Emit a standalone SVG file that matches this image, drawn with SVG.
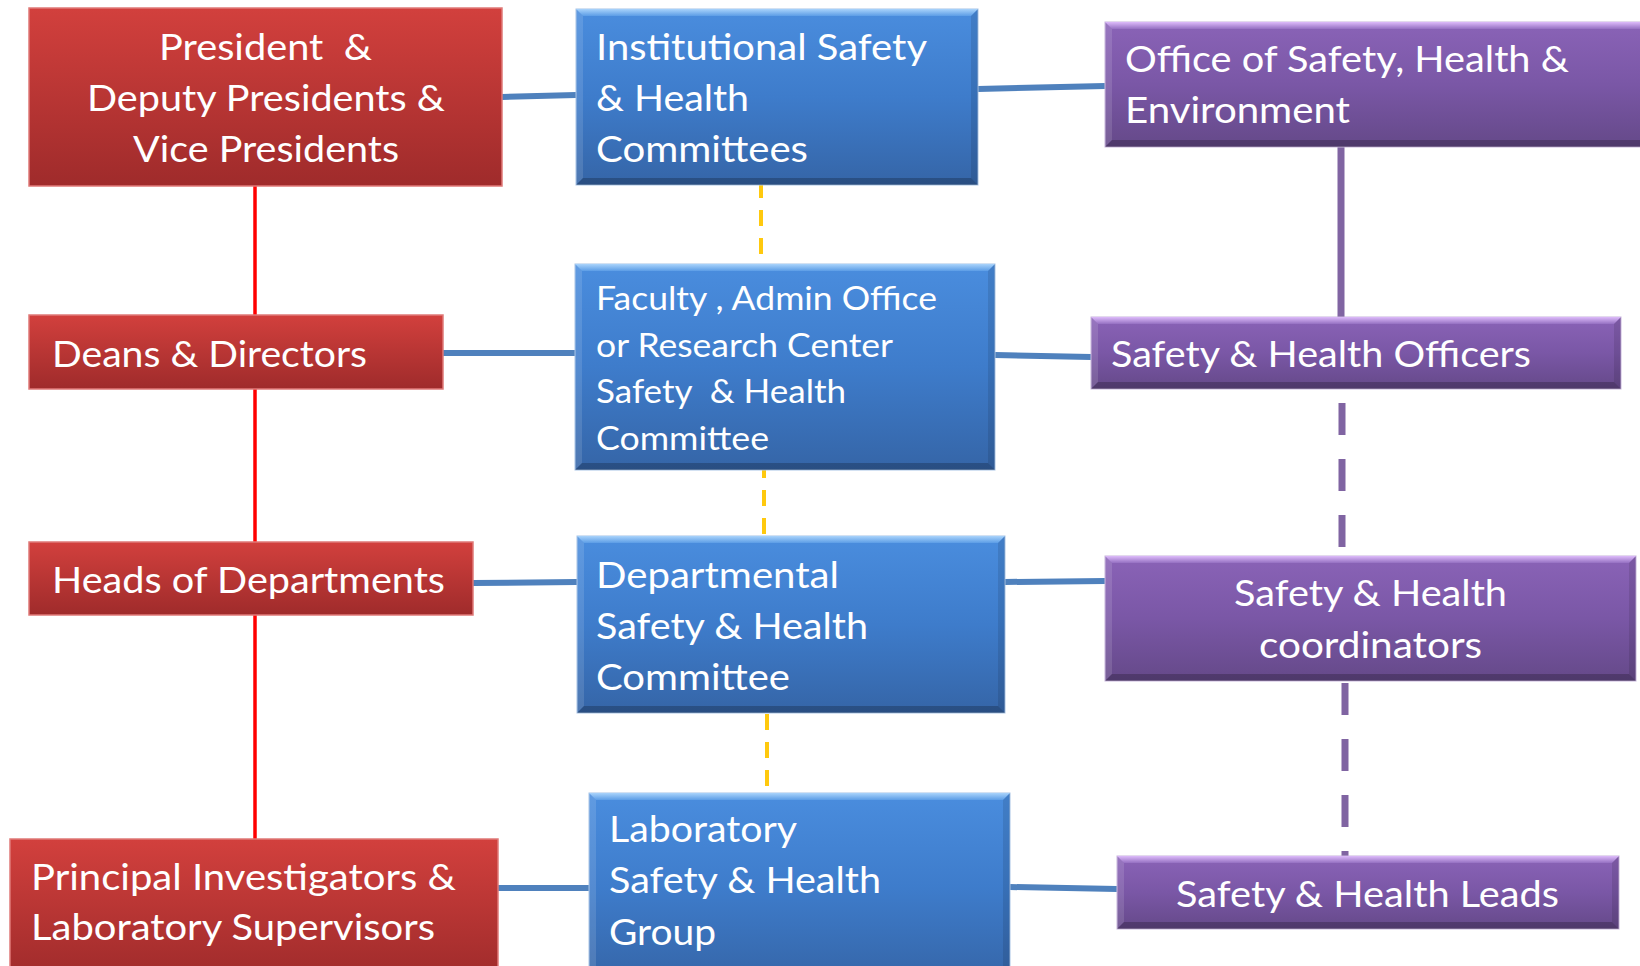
<svg xmlns="http://www.w3.org/2000/svg" width="1640" height="966" viewBox="0 0 1640 966">
<defs>
<linearGradient id="gRed" x1="0" y1="0" x2="0" y2="1">
<stop offset="0" stop-color="#D2403D"/><stop offset="1" stop-color="#9F2B2B"/>
</linearGradient>
<linearGradient id="gBlue" x1="0" y1="0" x2="0" y2="1">
<stop offset="0" stop-color="#4A8DDE"/><stop offset="0.5" stop-color="#3E7CCB"/><stop offset="1" stop-color="#3565A7"/>
</linearGradient>
<linearGradient id="gPurple" x1="0" y1="0" x2="0" y2="1">
<stop offset="0" stop-color="#8A63B7"/><stop offset="0.5" stop-color="#7A57A6"/><stop offset="1" stop-color="#654989"/>
</linearGradient>
<linearGradient id="gHiB" x1="0" y1="0" x2="0" y2="1">
<stop offset="0" stop-color="#A9D3FB"/><stop offset="1" stop-color="#5C9DE6"/>
</linearGradient>
<linearGradient id="gHiP" x1="0" y1="0" x2="0" y2="1">
<stop offset="0" stop-color="#DDBBFA"/><stop offset="1" stop-color="#9570C2"/>
</linearGradient>
</defs>
<style>
.txt{font-family:Lato,"Open Sans","Liberation Sans",sans-serif;fill:#FFFFFF;font-size:37px;white-space:pre}
.sm{font-size:33px}
.red{fill:url(#gRed);stroke:#E07A78;stroke-width:1.5}
.blue{fill:url(#gBlue);stroke:#A8C4E6;stroke-width:1}
.purple{fill:url(#gPurple);stroke:#C8B5DC;stroke-width:1}
.hiB{fill:url(#gHiB)}
.hiP{fill:url(#gHiP)}
.lft{fill:#FFFFFF;fill-opacity:0.12}
.rgt{fill:#000000;fill-opacity:0.1}
.bot{fill:#000000;fill-opacity:0.22}
.cBlue{stroke:#4F81BD;stroke-width:6;fill:none}
.cRed{stroke:#FF0000;stroke-width:3.5;fill:none}
.cYel{stroke:#FFC90E;stroke-width:4;fill:none;stroke-dasharray:16 12}
.cPur{stroke:#8064A2;stroke-width:7;fill:none}
.cPurD{stroke:#8064A2;stroke-width:7;fill:none;stroke-dasharray:32 24}
</style>
<rect width="1640" height="966" fill="#FFFFFF"/>
<g id="connectors">
<line class="cRed" x1="255" y1="186" x2="255" y2="840"/>
<line class="cBlue" x1="502" y1="97" x2="576" y2="95"/>
<line class="cBlue" x1="978" y1="89" x2="1105" y2="86"/>
<line class="cBlue" x1="443" y1="353" x2="575" y2="353"/>
<line class="cBlue" x1="995" y1="355" x2="1091" y2="357"/>
<line class="cBlue" x1="473" y1="583" x2="577" y2="582"/>
<line class="cBlue" x1="1005" y1="582" x2="1105" y2="581"/>
<line class="cBlue" x1="498" y1="888" x2="589" y2="888"/>
<line class="cBlue" x1="1010" y1="887" x2="1117" y2="889"/>
<line class="cYel" x1="761" y1="185" x2="761" y2="264" stroke-dashoffset="3"/>
<line class="cYel" x1="764" y1="470" x2="764" y2="536" stroke-dashoffset="8"/>
<line class="cYel" x1="767" y1="714" x2="767" y2="792"/>
<line class="cPur" x1="1341" y1="147" x2="1341" y2="317"/>
<line class="cPurD" x1="1342" y1="403" x2="1342" y2="556"/>
<line class="cPurD" x1="1345" y1="683" x2="1345" y2="856"/>
</g>
<g id="n-president">
<rect class="red" x="29" y="8" width="473" height="178"/>
<text class="txt" x="159" y="60" textLength="213" lengthAdjust="spacingAndGlyphs">President  &amp;</text>
<text class="txt" x="87" y="111" textLength="358" lengthAdjust="spacingAndGlyphs">Deputy Presidents &amp;</text>
<text class="txt" x="133" y="162" textLength="266" lengthAdjust="spacingAndGlyphs">Vice Presidents</text>
</g>
<g id="n-deans">
<rect class="red" x="29" y="315" width="414" height="74"/>
<text class="txt" x="52" y="367" textLength="315" lengthAdjust="spacingAndGlyphs">Deans &amp; Directors</text>
</g>
<g id="n-heads">
<rect class="red" x="29" y="542" width="444" height="73"/>
<text class="txt" x="52" y="593" textLength="393" lengthAdjust="spacingAndGlyphs">Heads of Departments</text>
</g>
<g id="n-pi">
<rect class="red" x="10" y="839" width="488" height="140"/>
<text class="txt" x="31" y="890" textLength="425" lengthAdjust="spacingAndGlyphs">Principal Investigators &amp;</text>
<text class="txt" x="31" y="940" textLength="404" lengthAdjust="spacingAndGlyphs">Laboratory Supervisors</text>
</g>
<g id="n-institutional">
<rect class="blue" x="576" y="9" width="402" height="176"/>
<polygon class="hiB" points="576,9 978,9 971,16 583,16"/>
<polygon class="lft" points="576,9 583,16 583,178 576,185"/>
<polygon class="rgt" points="978,9 971,16 971,178 978,185"/>
<polygon class="bot" points="576,185 583,178 971,178 978,185"/>
<text class="txt" x="596" y="60" textLength="331" lengthAdjust="spacingAndGlyphs">Institutional Safety</text>
<text class="txt" x="596" y="111" textLength="153" lengthAdjust="spacingAndGlyphs">&amp; Health</text>
<text class="txt" x="596" y="162" textLength="212" lengthAdjust="spacingAndGlyphs">Committees</text>
</g>
<g id="n-faculty">
<rect class="blue" x="575" y="264" width="420" height="206"/>
<polygon class="hiB" points="575,264 995,264 988,271 582,271"/>
<polygon class="lft" points="575,264 582,271 582,463 575,470"/>
<polygon class="rgt" points="995,264 988,271 988,463 995,470"/>
<polygon class="bot" points="575,470 582,463 988,463 995,470"/>
<text class="txt sm" x="596" y="310" textLength="341" lengthAdjust="spacingAndGlyphs">Faculty , Admin Office</text>
<text class="txt sm" x="596" y="357" textLength="297" lengthAdjust="spacingAndGlyphs">or Research Center</text>
<text class="txt sm" x="596" y="403" textLength="250" lengthAdjust="spacingAndGlyphs">Safety  &amp; Health</text>
<text class="txt sm" x="596" y="450" textLength="173" lengthAdjust="spacingAndGlyphs">Committee</text>
</g>
<g id="n-departmental">
<rect class="blue" x="577" y="536" width="428" height="177"/>
<polygon class="hiB" points="577,536 1005,536 998,543 584,543"/>
<polygon class="lft" points="577,536 584,543 584,706 577,713"/>
<polygon class="rgt" points="1005,536 998,543 998,706 1005,713"/>
<polygon class="bot" points="577,713 584,706 998,706 1005,713"/>
<text class="txt" x="596" y="588" textLength="243" lengthAdjust="spacingAndGlyphs">Departmental</text>
<text class="txt" x="596" y="639" textLength="272" lengthAdjust="spacingAndGlyphs">Safety &amp; Health</text>
<text class="txt" x="596" y="690" textLength="194" lengthAdjust="spacingAndGlyphs">Committee</text>
</g>
<g id="n-laboratory">
<rect class="blue" x="589" y="793" width="421" height="190"/>
<polygon class="hiB" points="589,793 1010,793 1003,800 596,800"/>
<polygon class="lft" points="589,793 596,800 596,983 589,983"/>
<polygon class="rgt" points="1010,793 1003,800 1003,983 1010,983"/>
<text class="txt" x="609" y="842" textLength="188" lengthAdjust="spacingAndGlyphs">Laboratory</text>
<text class="txt" x="609" y="893" textLength="272" lengthAdjust="spacingAndGlyphs">Safety &amp; Health</text>
<text class="txt" x="609" y="945" textLength="107" lengthAdjust="spacingAndGlyphs">Group</text>
</g>
<g id="n-office">
<rect class="purple" x="1105" y="22" width="560" height="125"/>
<polygon class="hiP" points="1105,22 1665,22 1658,29 1112,29"/>
<polygon class="lft" points="1105,22 1112,29 1112,140 1105,147"/>
<polygon class="bot" points="1105,147 1112,140 1665,140 1665,147"/>
<text class="txt" x="1125" y="72" textLength="444" lengthAdjust="spacingAndGlyphs">Office of Safety, Health &amp;</text>
<text class="txt" x="1125" y="123" textLength="225" lengthAdjust="spacingAndGlyphs">Environment</text>
</g>
<g id="n-officers">
<rect class="purple" x="1091" y="317" width="530" height="72"/>
<polygon class="hiP" points="1091,317 1621,317 1614,324 1098,324"/>
<polygon class="lft" points="1091,317 1098,324 1098,382 1091,389"/>
<polygon class="rgt" points="1621,317 1614,324 1614,382 1621,389"/>
<polygon class="bot" points="1091,389 1098,382 1614,382 1621,389"/>
<text class="txt" x="1111" y="367" textLength="420" lengthAdjust="spacingAndGlyphs">Safety &amp; Health Officers</text>
</g>
<g id="n-coordinators">
<rect class="purple" x="1105" y="556" width="531" height="125"/>
<polygon class="hiP" points="1105,556 1636,556 1629,563 1112,563"/>
<polygon class="lft" points="1105,556 1112,563 1112,674 1105,681"/>
<polygon class="rgt" points="1636,556 1629,563 1629,674 1636,681"/>
<polygon class="bot" points="1105,681 1112,674 1629,674 1636,681"/>
<text class="txt" x="1234" y="606" textLength="273" lengthAdjust="spacingAndGlyphs">Safety &amp; Health</text>
<text class="txt" x="1259" y="658" textLength="223" lengthAdjust="spacingAndGlyphs">coordinators</text>
</g>
<g id="n-leads">
<rect class="purple" x="1117" y="856" width="502" height="73"/>
<polygon class="hiP" points="1117,856 1619,856 1612,863 1124,863"/>
<polygon class="lft" points="1117,856 1124,863 1124,922 1117,929"/>
<polygon class="rgt" points="1619,856 1612,863 1612,922 1619,929"/>
<polygon class="bot" points="1117,929 1124,922 1612,922 1619,929"/>
<text class="txt" x="1176" y="907" textLength="383" lengthAdjust="spacingAndGlyphs">Safety &amp; Health Leads</text>
</g>
</svg>
